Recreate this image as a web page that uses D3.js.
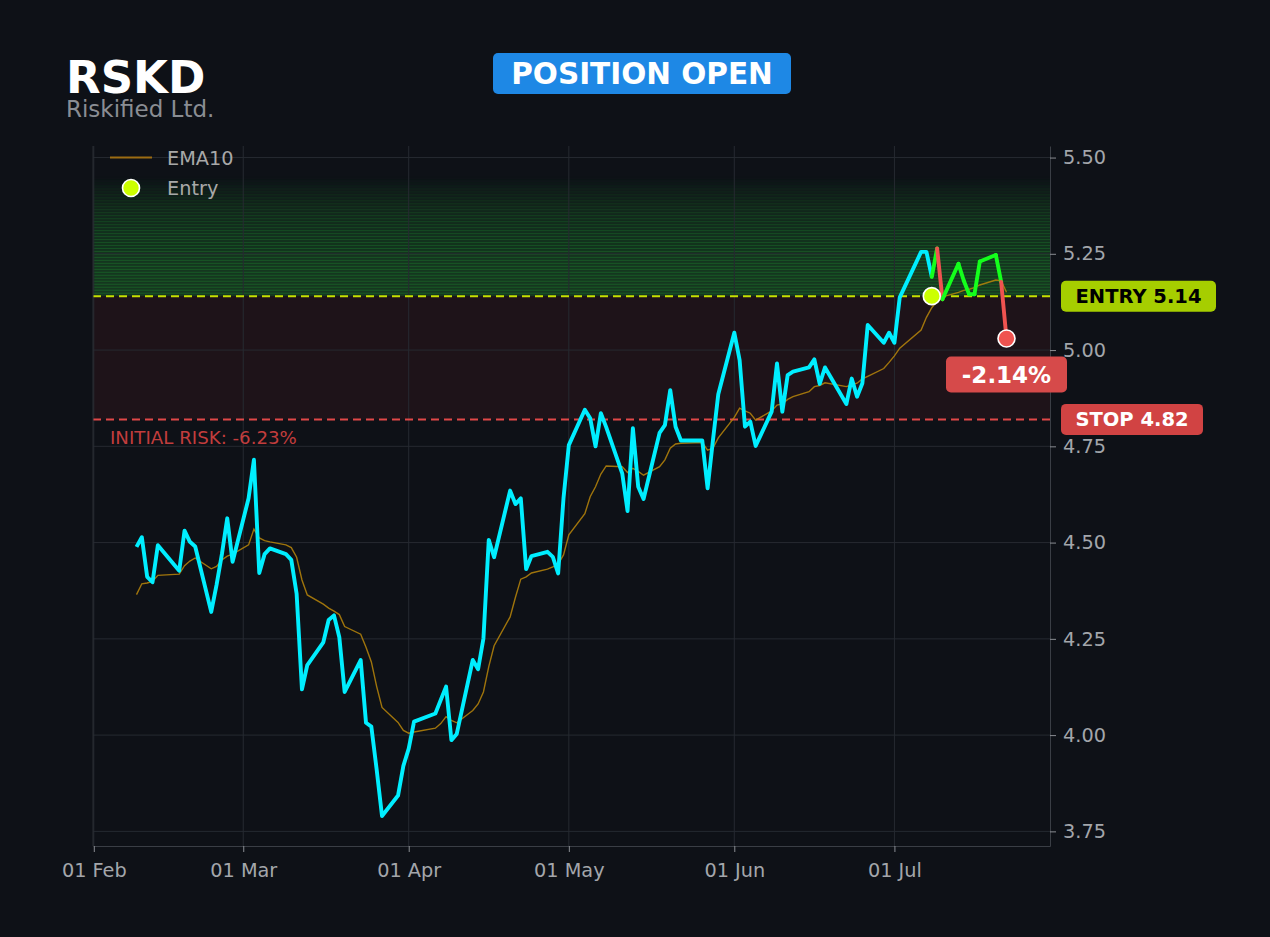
<!doctype html>
<html>
<head>
<meta charset="utf-8">
<script src="https://cdnjs.cloudflare.com/ajax/libs/d3/7.8.5/d3.min.js"></script>
<style>
  html, body { margin:0; padding:0; background:#0e1117; }
  svg { display:block; font-family:"DejaVu Sans", sans-serif; }
</style>
</head>
<body>
<svg width="1270" height="937"></svg>
<script>
var ticker = "RSKD", company = "Riskified Ltd.", status = "POSITION OPEN";
var entryPrice = 5.14, stopPrice = 4.82, targetTop = 5.45;
var entryDate = "2026-07-08", exitDate = "2026-07-22", exitPrice = 5.03;

var dates = [
  "2026-02-09","2026-02-10","2026-02-11","2026-02-12","2026-02-13",
  "2026-02-17","2026-02-18","2026-02-19","2026-02-20",
  "2026-02-23","2026-02-24","2026-02-25","2026-02-26","2026-02-27",
  "2026-03-02","2026-03-03","2026-03-04","2026-03-05","2026-03-06",
  "2026-03-09","2026-03-10","2026-03-11","2026-03-12","2026-03-13",
  "2026-03-16","2026-03-17","2026-03-18","2026-03-19","2026-03-20",
  "2026-03-23","2026-03-24","2026-03-25","2026-03-26","2026-03-27",
  "2026-03-30","2026-03-31","2026-04-01","2026-04-02",
  "2026-04-06","2026-04-07","2026-04-08","2026-04-09","2026-04-10",
  "2026-04-13","2026-04-14","2026-04-15","2026-04-16","2026-04-17",
  "2026-04-20","2026-04-21","2026-04-22","2026-04-23","2026-04-24",
  "2026-04-27","2026-04-28","2026-04-29","2026-04-30","2026-05-01",
  "2026-05-04","2026-05-05","2026-05-06","2026-05-07","2026-05-08",
  "2026-05-11","2026-05-12","2026-05-13","2026-05-14","2026-05-15",
  "2026-05-18","2026-05-19","2026-05-20","2026-05-21","2026-05-22",
  "2026-05-26","2026-05-27","2026-05-28","2026-05-29",
  "2026-06-01","2026-06-02","2026-06-03","2026-06-04","2026-06-05",
  "2026-06-08","2026-06-09","2026-06-10","2026-06-11","2026-06-12",
  "2026-06-15","2026-06-16","2026-06-17","2026-06-18",
  "2026-06-22","2026-06-23","2026-06-24","2026-06-25","2026-06-26",
  "2026-06-29","2026-06-30","2026-07-01","2026-07-02",
  "2026-07-06","2026-07-07","2026-07-08","2026-07-09","2026-07-10",
  "2026-07-13","2026-07-14","2026-07-15","2026-07-16","2026-07-17",
  "2026-07-20","2026-07-21","2026-07-22"
];

var prices = [
  4.489,4.514,4.411,4.397,4.493,
  4.427,4.531,4.502,4.490,
  4.320,4.390,4.470,4.563,4.450,
  4.615,4.715,4.421,4.470,4.485,
  4.470,4.455,4.367,4.119,4.182,
  4.241,4.299,4.311,4.254,4.112,
  4.195,4.032,4.022,3.910,3.790,
  3.843,3.920,3.965,4.035,
  4.056,4.091,4.126,3.987,4.003,
  4.195,4.171,4.251,4.507,4.462,
  4.635,4.600,4.615,4.431,4.465,
  4.476,4.463,4.420,4.615,4.753,
  4.845,4.823,4.750,4.836,4.800,
  4.680,4.582,4.797,4.645,4.613,
  4.785,4.805,4.896,4.801,4.765,
  4.765,4.641,4.766,4.885,
  5.045,4.974,4.801,4.814,4.751,
  4.840,4.965,4.840,4.935,4.944,
  4.955,4.976,4.912,4.955,
  4.860,4.926,4.879,4.914,5.065,
  5.019,5.045,5.019,5.137,
  5.255,5.255,5.190,5.264,5.132,
  5.224,5.180,5.145,5.145,5.230,
  5.247,5.177,5.030
];

var ema10 = [
  4.365,4.393,4.395,4.399,4.415,
  4.418,4.440,4.452,4.460,
  4.432,4.438,4.455,4.465,4.470,
  4.494,4.535,4.512,4.505,4.502,
  4.494,4.487,4.462,4.403,4.364,
  4.340,4.330,4.322,4.313,4.282,
  4.262,4.228,4.190,4.126,4.072,
  4.033,4.012,4.005,4.008,
  4.018,4.030,4.048,4.038,4.032,
  4.064,4.081,4.112,4.178,4.232,
  4.307,4.358,4.405,4.411,4.421,
  4.431,4.437,4.444,4.468,4.520,
  4.575,4.619,4.645,4.678,4.699,
  4.697,4.682,4.693,4.685,4.675,
  4.697,4.715,4.745,4.756,4.758,
  4.760,4.740,4.745,4.772,
  4.825,4.849,4.842,4.836,4.818,
  4.842,4.857,4.860,4.872,4.879,
  4.892,4.905,4.908,4.915,
  4.905,4.910,4.914,4.925,4.932,
  4.952,4.968,4.985,5.005,
  5.052,5.085,5.110,5.128,5.138,
  5.150,5.155,5.158,5.162,5.169,
  5.182,5.180,5.150
];

var yTicks = [3.75, 4.00, 4.25, 4.50, 4.75, 5.00, 5.25, 5.50];
var yDomain = [3.712, 5.530];

var W = 1270, H = 937;
var m = {left: 93, right: 1050, top: 146, bottom: 846};
var bg = "#0e1117";

var loc = d3.formatLocale({decimal: ".", thousands: ",", grouping: [3], currency: ["$", ""], minus: "-"});
var f2 = loc.format(".2f");

var parse = d3.timeParse("%Y-%m-%d");
var data = dates.map((d, i) => ({date: parse(d), close: prices[i], ema: ema10[i]}));
var eDate = parse(entryDate), xDate = parse(exitDate);

var ext = d3.extent(data, d => d.date);
var pad = (ext[1] - ext[0]) * 0.05;
var x = d3.scaleTime().domain([new Date(+ext[0] - pad), new Date(+ext[1] + pad)]).range([m.left, m.right]);
var y = d3.scaleLinear().domain(yDomain).range([m.bottom, m.top]);

var svg = d3.select("svg");
svg.append("rect").attr("width", W).attr("height", H).attr("fill", bg);

svg.append("clipPath").attr("id", "plotclip").append("rect")
  .attr("x", m.left).attr("y", m.top).attr("width", m.right - m.left).attr("height", m.bottom - m.top);
var plot = svg.append("g").attr("clip-path", "url(#plotclip)");

// risk zone between stop and entry
plot.append("rect")
  .attr("x", m.left).attr("width", m.right - m.left)
  .attr("y", y(entryPrice)).attr("height", y(stopPrice) - y(entryPrice))
  .attr("fill", "#e53935").attr("opacity", 0.08);

// target zone: stacked bands fading upward
var nBands = 40;
var step = (targetTop - entryPrice) / nBands;
var bands = d3.range(nBands).map(i => entryPrice + i * step);
var bandAlpha = (d, i) => 0.21 * (1 - Math.pow(i / nBands, 2.2));
plot.selectAll(".band").data(bands).enter().append("rect")
  .attr("x", m.left).attr("width", m.right - m.left)
  .attr("y", d => y(d + step)).attr("height", d => y(d) - y(d + step))
  .attr("fill", "#2ecc40").attr("opacity", bandAlpha);
plot.selectAll(".seam").data(bands).enter().append("rect")
  .attr("x", m.left).attr("width", m.right - m.left)
  .attr("y", d => y(d + step) - 0.5).attr("height", 1.1)
  .attr("fill", "#2ecc40").attr("opacity", (d, i) => Math.min(1, bandAlpha(d, i) * 1.1));

// grid
var months = x.ticks(d3.timeMonth.every(1));
plot.selectAll(".gx").data(months).enter().append("line")
  .attr("x1", d => x(d)).attr("x2", d => x(d))
  .attr("y1", m.top).attr("y2", m.bottom)
  .attr("stroke", "#262a31").attr("stroke-width", 1);
plot.selectAll(".gy").data(yTicks).enter().append("line")
  .attr("x1", m.left).attr("x2", m.right)
  .attr("y1", d => y(d)).attr("y2", d => y(d))
  .attr("stroke", "#262a31").attr("stroke-width", 1);

// entry / stop lines
plot.append("line").attr("x1", m.left).attr("x2", m.right)
  .attr("y1", y(entryPrice)).attr("y2", y(entryPrice))
  .attr("stroke", "#c6e000").attr("stroke-width", 2).attr("stroke-dasharray", "8,5");
plot.append("line").attr("x1", m.left).attr("x2", m.right)
  .attr("y1", y(stopPrice)).attr("y2", y(stopPrice))
  .attr("stroke", "#e04848").attr("stroke-width", 2).attr("stroke-dasharray", "8,5");

plot.append("text").attr("x", 110).attr("y", y(stopPrice) + 25)
  .attr("fill", "#c23d3d").attr("font-size", 18.2)
  .text("INITIAL RISK: " + f2((stopPrice - entryPrice) / entryPrice * 100) + "%");

// EMA
plot.append("path").datum(data)
  .attr("d", d3.line().x(d => x(d.date)).y(d => y(d.ema)))
  .attr("fill", "none").attr("stroke", "#b8860b").attr("stroke-width", 1.4).attr("opacity", 0.85);

// price up to entry
var before = data.filter(d => d.date <= eDate);
var after = data.filter(d => d.date >= eDate);
plot.append("path").datum(before)
  .attr("d", d3.line().x(d => x(d.date)).y(d => y(d.close)))
  .attr("fill", "none").attr("stroke", "#00eeff").attr("stroke-width", 3.9)
  .attr("stroke-linejoin", "round");

// price after entry: green while above entry, red when it closes below
plot.selectAll(".seg").data(d3.pairs(after)).enter().append("line")
  .attr("x1", d => x(d[0].date)).attr("y1", d => y(d[0].close))
  .attr("x2", d => x(d[1].date)).attr("y2", d => y(d[1].close))
  .attr("stroke", d => d[1].close >= entryPrice ? "#14ff1c" : "#ef5350")
  .attr("stroke-width", 3.9).attr("stroke-linecap", "round");

// markers
plot.append("circle").attr("cx", x(eDate)).attr("cy", y(entryPrice)).attr("r", 8.5)
  .attr("fill", "#ccff00").attr("stroke", "#ffffff").attr("stroke-width", 1.6);
plot.append("circle").attr("cx", x(xDate)).attr("cy", y(exitPrice)).attr("r", 8.5)
  .attr("fill", "#ef5350").attr("stroke", "#ffffff").attr("stroke-width", 1.6);

// axes
var axR = svg.append("g").attr("transform", "translate(" + m.right + ",0)")
  .call(d3.axisRight(y).tickValues(yTicks).tickFormat(f2).tickSize(6).tickSizeOuter(0).tickPadding(7));
var axB = svg.append("g").attr("transform", "translate(0," + m.bottom + ")")
  .call(d3.axisBottom(x).tickValues(months).tickFormat(d3.timeFormat("%d %b")).tickSize(6).tickSizeOuter(0).tickPadding(8));
[axR, axB].forEach(a => {
  a.select(".domain").attr("stroke", "#3a3e45");
  a.selectAll(".tick line").attr("stroke", "#8a8d93");
  a.selectAll("text").attr("fill", "#a3a6ab").attr("font-size", 19.3).attr("font-family", "DejaVu Sans");
});
axB.selectAll("text").attr("dy", "0.9em");
svg.append("line").attr("x1", m.left).attr("x2", m.left).attr("y1", m.top).attr("y2", m.bottom)
  .attr("stroke", "#2a2e35");

// legend
svg.append("line").attr("x1", 110).attr("x2", 152).attr("y1", 157.5).attr("y2", 157.5)
  .attr("stroke", "#9c6c12").attr("stroke-width", 2);
svg.append("text").attr("x", 167).attr("y", 165).attr("fill", "#a8a8a8").attr("font-size", 19.3).text("EMA10");
svg.append("circle").attr("cx", 131).attr("cy", 188).attr("r", 8.5)
  .attr("fill", "#ccff00").attr("stroke", "#ffffff").attr("stroke-width", 1.6);
svg.append("text").attr("x", 167).attr("y", 195).attr("fill", "#a8a8a8").attr("font-size", 19.3).text("Entry");

// badges
function badge(cx, cy, w, h, fill, txt, color, size) {
  svg.append("rect").attr("x", cx - w / 2).attr("y", cy - h / 2).attr("width", w).attr("height", h)
    .attr("rx", 5).attr("fill", fill);
  svg.append("text").attr("x", cx).attr("y", cy).attr("dy", "0.36em").attr("text-anchor", "middle")
    .attr("fill", color).attr("font-size", size).attr("font-weight", "bold").text(txt);
}
badge(1138.5, y(entryPrice), 155, 31, "#a6ce00", "ENTRY " + f2(entryPrice), "#000000", 19.5);
badge(1132, y(stopPrice), 142, 31, "#d14343", "STOP " + f2(stopPrice), "#ffffff", 19.5);
badge(x(xDate), y(exitPrice) + 36, 121, 36, "#d64a4a",
  f2((exitPrice - entryPrice) / entryPrice * 100) + "%", "#ffffff", 23);

// header
svg.append("text").attr("x", 66).attr("y", 93).attr("fill", "#ffffff")
  .attr("font-size", 45).attr("font-weight", "bold").text(ticker);
svg.append("text").attr("x", 66).attr("y", 117).attr("fill", "#8a8d93")
  .attr("font-size", 23).text(company);
svg.append("rect").attr("x", 493).attr("y", 53).attr("width", 298).attr("height", 41)
  .attr("rx", 5).attr("fill", "#1e88e5");
svg.append("text").attr("x", 642).attr("y", 73.5).attr("dy", "0.36em").attr("text-anchor", "middle")
  .attr("fill", "#ffffff").attr("font-size", 29.5).attr("font-weight", "bold").text(status);
</script>
</body>
</html>
